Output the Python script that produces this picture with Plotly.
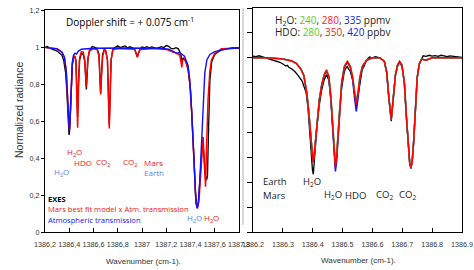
import plotly.graph_objects as go

W, H = 474, 270

# ---------------- Left panel data (EXES vs models) ----------------
left_blue_x = [1386.20, 1386.25, 1386.30, 1386.34, 1386.36, 1386.375, 1386.385, 1386.395, 1386.400,
               1386.405, 1386.415, 1386.425, 1386.435, 1386.447, 1386.46, 1386.475, 1386.50, 1386.60,
               1386.80, 1387.00, 1387.15, 1387.22, 1387.26, 1387.29, 1387.31, 1387.33, 1387.35, 1387.38,
               1387.394, 1387.41, 1387.422, 1387.435, 1387.445, 1387.455, 1387.465, 1387.477, 1387.491,
               1387.505, 1387.518, 1387.535, 1387.56, 1387.60, 1387.70, 1387.80]
left_blue_y = [0.998, 0.996, 0.99, 0.972, 0.945, 0.87, 0.74, 0.60, 0.55,
               0.59, 0.78, 0.915, 0.955, 0.967, 0.962, 0.978, 0.988, 0.993,
               0.995, 0.995, 0.993, 0.988, 0.975, 0.966, 0.97, 0.962, 0.95, 0.90,
               0.82, 0.65, 0.50, 0.28, 0.16, 0.128, 0.16, 0.28, 0.50,
               0.72, 0.86, 0.93, 0.96, 0.975, 0.99, 0.995]

left_red_x = [1386.20, 1386.30, 1386.34, 1386.36, 1386.375, 1386.385, 1386.395, 1386.400, 1386.405,
              1386.415, 1386.425, 1386.435, 1386.445, 1386.455, 1386.462, 1386.469, 1386.476, 1386.485,
              1386.50, 1386.515, 1386.528, 1386.535, 1386.540, 1386.545, 1386.552, 1386.565, 1386.60,
              1386.63, 1386.645, 1386.653, 1386.659, 1386.665, 1386.675, 1386.69, 1386.70, 1386.715,
              1386.722, 1386.73, 1386.738, 1386.745, 1386.76, 1386.80, 1386.94, 1386.955, 1386.962,
              1386.97, 1386.985, 1387.10, 1387.20, 1387.26, 1387.29, 1387.31, 1387.322, 1387.328,
              1387.335, 1387.35, 1387.38, 1387.394, 1387.41, 1387.422, 1387.435, 1387.445, 1387.458,
              1387.47, 1387.483, 1387.495, 1387.504, 1387.512, 1387.518, 1387.524, 1387.532, 1387.545,
              1387.56, 1387.573, 1387.60, 1387.655, 1387.80]
left_red_y = [0.997, 0.99, 0.972, 0.945, 0.87, 0.74, 0.60, 0.55, 0.59,
              0.78, 0.91, 0.945, 0.952, 0.92, 0.78, 0.564, 0.78, 0.94,
              0.975, 0.972, 0.93, 0.84, 0.785, 0.84, 0.93, 0.98, 0.99,
              0.987, 0.95, 0.83, 0.744, 0.83, 0.95, 0.985, 0.98, 0.93,
              0.75, 0.56, 0.75, 0.93, 0.985, 0.992, 0.988, 0.962, 0.945,
              0.965, 0.987, 0.992, 0.987, 0.972, 0.965, 0.958, 0.92, 0.89,
              0.93, 0.935, 0.89, 0.81, 0.65, 0.50, 0.28, 0.16, 0.128,
              0.17, 0.30, 0.45, 0.515, 0.40, 0.28, 0.245, 0.45, 0.72,
              0.87, 0.93, 0.965, 0.99, 0.995]

left_black_x = [1386.20, 1386.22, 1386.24, 1386.26, 1386.28, 1386.30, 1386.32, 1386.34, 1386.355,
                1386.37, 1386.38, 1386.39, 1386.398, 1386.405, 1386.415, 1386.425, 1386.435, 1386.445,
                1386.455, 1386.462, 1386.469, 1386.476, 1386.485, 1386.50, 1386.515, 1386.528, 1386.535,
                1386.541, 1386.547, 1386.555, 1386.57, 1386.59, 1386.61, 1386.63, 1386.645, 1386.653,
                1386.659, 1386.665, 1386.675, 1386.69, 1386.70, 1386.715, 1386.722, 1386.73, 1386.738,
                1386.745, 1386.76, 1386.78, 1386.80, 1386.82, 1386.84, 1386.86, 1386.88, 1386.90,
                1386.92, 1386.94, 1386.955, 1386.962, 1386.97, 1386.985, 1387.00, 1387.02, 1387.04,
                1387.06, 1387.08, 1387.10, 1387.12, 1387.14, 1387.16, 1387.18, 1387.20, 1387.22,
                1387.24, 1387.26, 1387.28, 1387.30, 1387.32, 1387.33, 1387.34, 1387.36, 1387.38,
                1387.40, 1387.415, 1387.43, 1387.44, 1387.452, 1387.465, 1387.478, 1387.49, 1387.50,
                1387.51, 1387.522, 1387.532, 1387.54, 1387.55, 1387.56, 1387.575, 1387.60, 1387.63,
                1387.66, 1387.70, 1387.75, 1387.80]
left_black_y = [0.998, 1.003, 0.993, 0.99, 0.983, 0.978, 0.968, 0.955, 0.925,
                0.86, 0.76, 0.62, 0.524, 0.56, 0.75, 0.90, 0.94, 0.95,
                0.93, 0.82, 0.62, 0.80, 0.93, 0.965, 0.96, 0.92, 0.84,
                0.77, 0.84, 0.94, 0.985, 1.003, 0.998, 0.992, 0.96, 0.84,
                0.75, 0.84, 0.96, 0.99, 0.98, 0.93, 0.76, 0.58, 0.76,
                0.93, 0.99, 1.0, 1.006, 0.997, 1.002, 1.006, 0.996, 1.001,
                0.996, 0.986, 0.96, 0.945, 0.965, 0.99, 1.0, 0.996, 1.002,
                0.996, 1.001, 0.996, 0.992, 0.997, 1.002, 0.997, 1.008, 1.004,
                0.992, 0.99, 0.996, 0.99, 0.962, 0.925, 0.94, 0.925, 0.875,
                0.77, 0.60, 0.38, 0.22, 0.14, 0.16, 0.28, 0.42, 0.50,
                0.42, 0.31, 0.28, 0.30, 0.58, 0.82, 0.92, 0.96, 0.975,
                0.985, 0.99, 0.996, 0.996]

# ---------------- Right panel data (abundance fits) ----------------
right_x = [1386.20, 1386.25, 1386.30, 1386.33, 1386.345, 1386.36, 1386.37, 1386.38, 1386.387,
           1386.393, 1386.397, 1386.401, 1386.405, 1386.409, 1386.415, 1386.422, 1386.43, 1386.438,
           1386.446, 1386.454, 1386.461, 1386.467, 1386.472, 1386.476, 1386.48, 1386.485, 1386.49,
           1386.497, 1386.506, 1386.516, 1386.526, 1386.534, 1386.54, 1386.546, 1386.552, 1386.558,
           1386.566, 1386.58, 1386.60, 1386.625, 1386.64, 1386.648, 1386.655, 1386.663, 1386.67,
           1386.677, 1386.684, 1386.691, 1386.699, 1386.707, 1386.714, 1386.72, 1386.725, 1386.729,
           1386.733, 1386.738, 1386.744, 1386.75, 1386.757, 1386.765, 1386.78, 1386.80, 1386.85,
           1386.90]
right_red = [1.000, 1.000, 0.995, 0.987, 0.978, 0.955, 0.93, 0.86, 0.78,
             0.68, 0.62, 0.58, 0.61, 0.67, 0.75, 0.83, 0.89, 0.93,
             0.95, 0.925, 0.84, 0.73, 0.62, 0.56, 0.60, 0.70, 0.80,
             0.90, 0.965, 0.985, 0.965, 0.92, 0.86, 0.812, 0.86, 0.92,
             0.965, 0.99, 1.0, 1.0, 0.985, 0.94, 0.84, 0.752, 0.84,
             0.93, 0.97, 0.985, 0.97, 0.90, 0.76, 0.64, 0.575, 0.56,
             0.58, 0.66, 0.80, 0.92, 0.975, 0.995, 0.99, 1.0, 1.0,
             1.0]
right_green = [1.000, 1.000, 0.995, 0.987, 0.978, 0.955, 0.93, 0.86, 0.78,
               0.68, 0.62, 0.58, 0.61, 0.67, 0.75, 0.83, 0.89, 0.932,
               0.953, 0.928, 0.848, 0.745, 0.635, 0.575, 0.615, 0.715, 0.81,
               0.905, 0.967, 0.988, 0.967, 0.925, 0.87, 0.826, 0.87, 0.925,
               0.967, 0.99, 1.0, 1.0, 0.985, 0.94, 0.84, 0.752, 0.84,
               0.93, 0.97, 0.985, 0.97, 0.90, 0.76, 0.64, 0.575, 0.56,
               0.58, 0.66, 0.80, 0.92, 0.975, 0.995, 0.99, 1.0, 1.0,
               1.0]
right_blue = [1.000, 1.000, 0.995, 0.987, 0.978, 0.955, 0.93, 0.86, 0.78,
              0.68, 0.62, 0.58, 0.61, 0.67, 0.75, 0.83, 0.89, 0.928,
              0.947, 0.92, 0.83, 0.715, 0.60, 0.543, 0.585, 0.685, 0.79,
              0.895, 0.963, 0.982, 0.962, 0.91, 0.84, 0.785, 0.84, 0.91,
              0.962, 0.99, 1.0, 1.0, 0.985, 0.94, 0.84, 0.752, 0.84,
              0.93, 0.97, 0.985, 0.97, 0.90, 0.76, 0.64, 0.575, 0.56,
              0.58, 0.66, 0.80, 0.92, 0.975, 0.995, 0.99, 1.0, 1.0,
              1.0]
right_black_x = [1386.20, 1386.21, 1386.22, 1386.23, 1386.24, 1386.25, 1386.26, 1386.27, 1386.28,
                 1386.29, 1386.30, 1386.31, 1386.315, 1386.32, 1386.33, 1386.34, 1386.35, 1386.36,
                 1386.365, 1386.372, 1386.378, 1386.384, 1386.39, 1386.395, 1386.399, 1386.402, 1386.405,
                 1386.409, 1386.415, 1386.422, 1386.43, 1386.438, 1386.446, 1386.454, 1386.461, 1386.467,
                 1386.472, 1386.476, 1386.48, 1386.485, 1386.49, 1386.497, 1386.506, 1386.512, 1386.516,
                 1386.52, 1386.526, 1386.534, 1386.54, 1386.546, 1386.552, 1386.558, 1386.562, 1386.566,
                 1386.57, 1386.575, 1386.58, 1386.59, 1386.60, 1386.61, 1386.625, 1386.64, 1386.648,
                 1386.655, 1386.663, 1386.67, 1386.677, 1386.684, 1386.691, 1386.699, 1386.707, 1386.714,
                 1386.72, 1386.725, 1386.729, 1386.733, 1386.738, 1386.744, 1386.75, 1386.757, 1386.765,
                 1386.77, 1386.78, 1386.79, 1386.80, 1386.81, 1386.82, 1386.83, 1386.84, 1386.85,
                 1386.86, 1386.87, 1386.88, 1386.89, 1386.90]
right_black = [1.007, 1.005, 1.008, 1.004, 1.003, 0.998, 0.994, 0.99, 0.985,
               0.982, 0.975, 0.967, 0.97, 0.962, 0.955, 0.945, 0.93, 0.915,
               0.905, 0.88, 0.859, 0.80, 0.70, 0.60, 0.55, 0.532, 0.58,
               0.655, 0.735, 0.81, 0.87, 0.91, 0.932, 0.91, 0.83, 0.72,
               0.61, 0.56, 0.60, 0.70, 0.79, 0.88, 0.945, 0.96, 0.965,
               0.955, 0.945, 0.91, 0.86, 0.81, 0.85, 0.90, 0.94, 0.955,
               0.96, 0.975, 0.99, 1.003, 1.0, 1.004, 1.0, 0.985, 0.94,
               0.84, 0.745, 0.84, 0.93, 0.965, 0.98, 0.965, 0.90, 0.76,
               0.64, 0.575, 0.555, 0.58, 0.66, 0.80, 0.92, 0.975, 1.0,
               1.008, 1.006, 1.01, 1.007, 1.009, 1.006, 1.01, 1.008, 1.005,
               1.008, 1.006, 1.004, 1.003, 1.002]

# ---------------- Ticks ----------------
left_xticks = [1386.2, 1386.4, 1386.6, 1386.8, 1387.0, 1387.2, 1387.4, 1387.6, 1387.8]
left_xlabels = ["1386,2", "1386,4", "1386,6", "1386,8", "1387", "1387,2", "1387,4", "1387,6", "1387,8"]
left_yticks = [0, 0.2, 0.4, 0.6, 0.8, 1.0, 1.2]
left_ylabels = ["0", "0,2", "0,4", "0,6", "0,8", "1", "1,2"]
right_xticks = [1386.2, 1386.3, 1386.4, 1386.5, 1386.6, 1386.7, 1386.8, 1386.9]
right_xlabels = ["1386.2", "1386.3", "1386.4", "1386.5", "1386.6", "1386.7", "1386.8", "1386.9"]
right_yticks = [0.3, 0.4, 0.5, 0.6, 0.7, 0.8, 0.9, 1.0, 1.1, 1.2]

RED = "#f01414"
BLUE = "#1414f0"
LBLUE = "#4f7ff0"
GREEN = "#55cc33"


def px_x(p):
    return p / W


def px_y(p):
    return 1 - p / H


fig = go.Figure()
# left
fig.add_trace(go.Scatter(x=left_black_x, y=left_black_y, mode="lines", line=dict(color="black", width=1.3),
                         xaxis="x", yaxis="y", showlegend=False))
fig.add_trace(go.Scatter(x=left_red_x, y=left_red_y, mode="lines", line=dict(color="#ff0000", width=1.5),
                         xaxis="x", yaxis="y", showlegend=False))
fig.add_trace(go.Scatter(x=left_blue_x, y=left_blue_y, mode="lines", line=dict(color="#1010ff", width=1.4),
                         xaxis="x", yaxis="y", showlegend=False))
# right
fig.add_trace(go.Scatter(x=right_black_x, y=right_black, mode="lines", line=dict(color="black", width=1.3),
                         xaxis="x2", yaxis="y2", showlegend=False))
fig.add_trace(go.Scatter(x=right_x, y=right_blue, mode="lines", line=dict(color="#1010ff", width=1.5),
                         xaxis="x2", yaxis="y2", showlegend=False))
fig.add_trace(go.Scatter(x=right_x, y=right_green, mode="lines", line=dict(color=GREEN, width=1.5),
                         xaxis="x2", yaxis="y2", showlegend=False))
fig.add_trace(go.Scatter(x=right_x, y=right_red, mode="lines", line=dict(color="#ff0000", width=1.5),
                         xaxis="x2", yaxis="y2", showlegend=False))

NARROW = "Liberation Sans, Arial, sans-serif"
TICKFONT = dict(family=NARROW, size=7.2, color="#333333")
LD = [px_x(45), px_x(239)]
LYD = [px_y(232), px_y(10)]
RD = [px_x(253), px_x(462)]
RYD = [px_y(232), px_y(8)]

base = dict(showgrid=False, zeroline=False, showline=True, linecolor="black", linewidth=1.3,
            mirror=True, tickfont=TICKFONT, tickwidth=1, tickcolor="black", tickangle=0,
            automargin=False, ticklabeloverflow="allow")

fig.update_layout(
    width=W, height=H, margin=dict(l=0, r=0, t=0, b=0, autoexpand=False),
    paper_bgcolor="white", plot_bgcolor="white",
    xaxis=dict(domain=LD, range=[1386.1999, 1387.8001], anchor="y", tickmode="array", tickvals=left_xticks,
               ticktext=left_xlabels, ticks="inside", ticklen=4, ticklabelstandoff=5, **base),
    yaxis=dict(domain=LYD, range=[0, 1.2], anchor="x", tickmode="array", tickvals=left_yticks,
               ticktext=left_ylabels, ticks="outside", ticklen=3, **base),
    yaxis3=dict(overlaying="y", side="right", anchor="x", range=[0, 1.2], tickmode="array",
                tickvals=left_yticks, ticks="inside", ticklen=4, showticklabels=False, showgrid=False,
                zeroline=False, showline=False, tickcolor="black"),
    xaxis2=dict(domain=RD, range=[1386.1999, 1386.9001], anchor="y2", tickmode="array", tickvals=right_xticks,
                ticktext=right_xlabels, ticks="inside", ticklen=4, ticklabelstandoff=5, **base),
    yaxis2=dict(domain=RYD, range=[0.3, 1.2], anchor="x2", tickmode="array", tickvals=right_yticks,
                ticks="outside", ticklen=5, showticklabels=False, **base),
    yaxis4=dict(overlaying="y2", side="right", anchor="x2", range=[0.3, 1.2], tickmode="array",
                tickvals=right_yticks, ticks="inside", ticklen=4, showticklabels=False, showgrid=False,
                zeroline=False, showline=False, tickcolor="black"),
)

# separator line between the two images
fig.add_shape(type="line", xref="paper", yref="paper", x0=px_x(243), x1=px_x(243), y0=px_y(8), y1=px_y(225),
              line=dict(color="#cccccc", width=1.5))

AF = "Open Sans, sans-serif"


def ann(text, x, y, size, color="black", xanchor="center", angle=0, family=AF):
    fig.add_annotation(text=text, x=px_x(x), y=px_y(y), xref="paper", yref="paper", showarrow=False,
                       xanchor=xanchor, yanchor="middle", textangle=angle,
                       font=dict(family=family, size=size, color=color))


# Left panel texts
ann("Doppler shift = + 0.075 cm<sup>-1</sup>", 130, 22, 10)
ann("H<sub>2</sub>O", 74, 152, 8, RED)
ann("HDO", 83, 162, 8, RED)
ann("CO<sub>2</sub>", 103, 162.5, 8, RED)
ann("CO<sub>2</sub>", 130, 162.5, 8, RED)
ann("Mars", 153, 162, 8, RED)
ann("H<sub>2</sub>O", 61, 172.5, 8, LBLUE)
ann("Earth", 153.5, 172, 8, LBLUE)
ann("<b>EXES</b>", 46, 199, 7.5, "black", "left")
ann("Mars best fit model x Atm. transmission", 46, 209, 7.6, RED, "left")
ann("Atmospheric transmission", 46, 219.5, 7.6, BLUE, "left")
ann("H<sub>2</sub>O", 194.5, 218.5, 8, LBLUE)
ann("H<sub>2</sub>O", 211, 218.5, 8, RED)

# Axis titles
ann("Normalized radiance", 19, 110, 10.5, "#333333", angle=-90, family=NARROW)
ann("Wavenumber (cm-1).", 143, 261, 8, "#333333", family=NARROW)
ann("Wavenumber (cm-1).", 358, 260, 8, "#333333", family=NARROW)

# Right panel texts
ann("H<sub>2</sub>O: <span style='color:%s'>240</span>, <span style='color:%s'>280</span>, "
    "<span style='color:%s'>335</span> ppmv" % (GREEN, "#ff2020", BLUE), 273, 20, 10, "#222222", "left")
ann("HDO: <span style='color:%s'>280</span>, <span style='color:%s'>350</span>, "
    "<span style='color:%s'>420</span> ppbv" % (GREEN, "#ff2020", BLUE), 273, 31.5, 10, "#222222", "left")
ann("Earth", 261, 181.5, 9.5, "#222222", "left")
ann("Mars", 261, 195, 9.5, "#222222", "left")
ann("H<sub>2</sub>O", 312, 181.5, 9.5, "#222222")
ann("H<sub>2</sub>O", 332.5, 195, 9.5, "#222222")
ann("HDO", 355, 195, 9.5, "#222222")
ann("CO<sub>2</sub>", 384, 195, 9.5, "#222222")
ann("CO<sub>2</sub>", 407, 195, 9.5, "#222222")

fig.write_html("out.html", config={"displayModeBar": False},
               post_script="document.body.style.margin='0px';")
